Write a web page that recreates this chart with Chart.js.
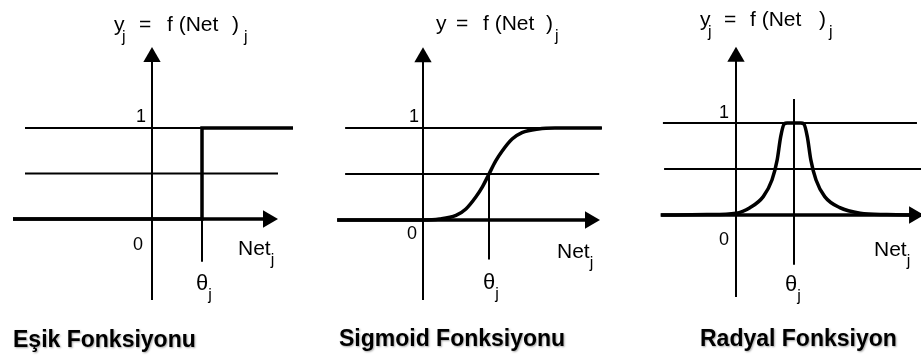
<!DOCTYPE html>
<html lang="tr">
<head>
<meta charset="UTF-8">
<title>Aktivasyon Fonksiyonları</title>
<script src="https://cdn.jsdelivr.net/npm/chart.js"></script>
<style>
    body {
        margin: 0;
        background: #fff;
        width: 921px;
        height: 355px;
        position: relative;
        overflow: hidden;
        font-family: "Liberation Sans", Arial, sans-serif;
        color: #000;
    }
    canvas { position: absolute; top: 0; }
    .t { position: absolute; white-space: pre; line-height: normal; }
    .cap { font-weight: bold; text-shadow: 1px 1px 2px rgba(0,0,0,0.35); }
</style>
</head>
<body>

<canvas id="esik" width="307" height="355" style="left:0px"></canvas>
<canvas id="sigmoid" width="307" height="355" style="left:307px"></canvas>
<canvas id="radyal" width="307" height="355" style="left:614px"></canvas>

<script>
    // guide levels (y = 0.5 and y = 1) shared by the three panels
    const levels = [0.5, 1];

    // Eşik (step) function, theta = 1
    const stepX = [-2.78, 1, 1, 2.82];
    const stepY = [0, 0, 1, 1];

    // Sigmoid function
    const sigX = [-1.3, 0, 0.25, 0.5, 0.65, 0.8, 0.9, 1.0, 1.1, 1.2, 1.35, 1.5, 1.75, 2.0, 2.71];
    const sigY = [0, 0, 0.01, 0.05, 0.12, 0.25, 0.36, 0.5, 0.64, 0.75, 0.88, 0.95, 0.99, 1, 1];

    // Radyal function
    const radX = [-1.3, -0.5, 0, 0.24, 0.47, 0.62, 0.71, 0.77, 0.83, 0.88, 1.12, 1.17, 1.23, 1.29, 1.38, 1.53, 1.79, 2.14, 2.6, 3.2];
    const radY = [0, 0.005, 0.02, 0.08, 0.2, 0.38, 0.6, 0.85, 0.99, 1, 1, 0.99, 0.85, 0.6, 0.38, 0.2, 0.08, 0.02, 0.005, 0];

    // line extents per panel [from, to] in data units
    const grid1 = { esik: [-2.54, 2.82], sigmoid: [-1.18, 2.71], radyal: [-1.26, 3.12] };
    const grid05 = { esik: [-2.54, 2.52], sigmoid: [-1.18, 2.67], radyal: [-1.24, 3.2] };
    const xAxis = { esik: [-2.78, 2.32], sigmoid: [-1.3, 2.53], radyal: [-1.29, 3.07] };
    const yAxis = { esik: [-0.89, 1.78], sigmoid: [-0.87, 1.77], radyal: [-0.89, 1.72] };
    const thetaLine = { esik: [-0.47, 1], sigmoid: [-0.43, 0.5], radyal: [-0.54, 1.26] };

    function pts(xs, ys) {
        return xs.map((x, i) => ({ x: x, y: ys[i] }));
    }

    function line(data, width, smooth) {
        return {
            data: data,
            showLine: true,
            borderColor: '#000',
            borderWidth: width,
            pointRadius: 0,
            fill: false,
            tension: 0,
            cubicInterpolationMode: smooth ? 'monotone' : 'default'
        };
    }

    function arrow(x, y, rot) {
        return {
            data: [{ x: x, y: y }],
            showLine: false,
            pointStyle: 'triangle',
            pointRadius: 10,
            rotation: rot,
            backgroundColor: '#000',
            borderColor: '#000',
            borderWidth: 0
        };
    }

    // origin (canvas px) and px per unit for each panel
    function drawPanel(id, curve, ox, sx, oy, sy) {
        const w = 307, h = 355;
        const ds = [];
        ds.push(line(curve, 3.5, id !== 'esik'));
        ds.push(line(pts(xAxis[id], [0, 0]), 3.5));
        ds.push(arrow(xAxis[id][1], 0, 90));
        ds.push(line(pts([0, 0], yAxis[id]), 2));
        ds.push(arrow(0, yAxis[id][1], 0));
        ds.push(line(pts([1, 1], thetaLine[id]), 2));
        ds.push(line(pts(grid1[id], [levels[1], levels[1]]), 1.8));
        ds.push(line(pts(grid05[id], [levels[0], levels[0]]), 1.8));

        new Chart(document.getElementById(id), {
            type: 'scatter',
            data: { datasets: ds },
            options: {
                responsive: false,
                animation: false,
                events: [],
                layout: { padding: 0, autoPadding: false },
                plugins: { legend: { display: false }, tooltip: { enabled: false } },
                scales: {
                    x: { type: 'linear', display: false, min: -ox / sx, max: (w - ox) / sx },
                    y: { type: 'linear', display: false, min: -(h - oy) / sy, max: oy / sy }
                }
            }
        });
    }

    drawPanel('esik', pts(stepX, stepY), 152, 50, 219, 91);
    drawPanel('sigmoid', pts(sigX, sigY), 116, 66, 220, 92);
    drawPanel('radyal', pts(radX, radY), 122, 58, 215, 92);

    // text labels: html, left, baseline, size, extra class
    function label(html, left, base, size, cls) {
        const d = document.createElement('div');
        d.className = 't ' + (cls || '');
        d.style.fontSize = size + 'px';
        d.style.left = left + 'px';
        d.style.top = (base - 0.905 * size) + 'px';
        d.innerHTML = html;
        document.body.appendChild(d);
    }

    // "y_j = f (Net )_j" in pieces: [text, left, isSub]
    function formula(base, parts) {
        parts.forEach(p => {
            if (p[2]) label(p[0], p[1], base + 11, 16);
            else label(p[0], p[1], base, 21);
        });
    }
    const subN = '<span style="font-size:16px;position:relative;top:10px">j</span>';

    formula(31, [['y', 114], ['j', 122, 1], ['=', 139], ['f (Net', 167], [')', 232], ['j', 244, 1]]);
    label('1', 136, 122, 18);
    label('0', 133, 250, 18);
    label('Net' + subN, 238, 255, 21);
    label('θ' + subN, 196, 290, 22);
    label('Eşik Fonksiyonu', 13, 347, 23, 'cap');

    formula(30, [['y', 436], ['=', 456], ['f (Net', 483], [')', 546], ['j', 555, 1]]);
    label('1', 409, 122, 18);
    label('0', 407, 239, 18);
    label('Net' + subN, 557, 258, 21);
    label('θ' + subN, 483, 289, 22);
    label('Sigmoid Fonksiyonu', 339, 346, 23, 'cap');

    formula(26, [['y', 700], ['j', 708, 1], ['=', 724], ['f (Net', 750], [')', 819], ['j', 829, 1]]);
    label('1', 719, 118, 18);
    label('0', 719, 245, 18);
    label('Net' + subN, 874, 256, 21);
    label('θ' + subN, 785, 291, 22);
    label('Radyal Fonksiyon', 700, 346, 23, 'cap');
</script>

</body>
</html>
